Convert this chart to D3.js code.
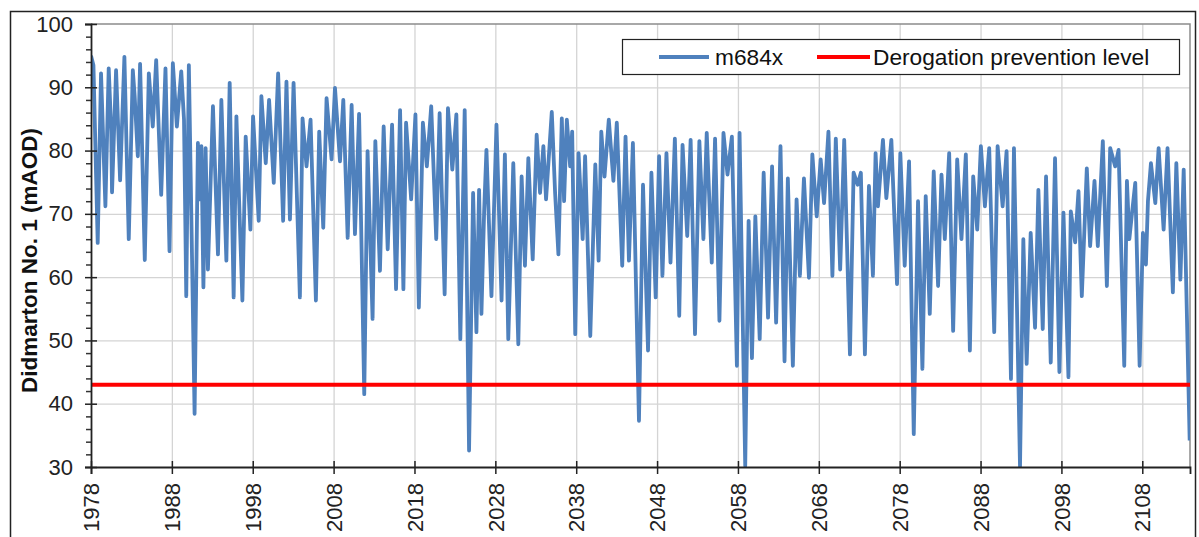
<!DOCTYPE html>
<html>
<head>
<meta charset="utf-8">
<script src="https://cdn.jsdelivr.net/npm/d3@7"></script>
<style>
  body { margin: 0; background: #fff; }
  text { font-family: "Liberation Sans", Arial, sans-serif; }
</style>
</head>
<body>
<svg id="chart" width="1199" height="537"></svg>
<script>
const decYear = [
  1978.0, 1978.3, 1978.83, 1979.24, 1979.78, 1980.19, 1980.5, 1980.6, 1981.1, 1981.6, 1982.13,
  1982.67, 1983.17, 1983.4, 1983.79, 1984.07, 1984.65, 1985.15, 1985.64, 1986.06, 1986.68, 1987.21,
  1987.71, 1988.12, 1988.62, 1989.16, 1989.5, 1989.78, 1990.1, 1990.81, 1991.22, 1991.45,
  1991.65, 1991.9, 1992.17, 1992.46, 1993.08, 1993.7, 1994.12, 1994.74, 1995.15, 1995.64,
  1995.98, 1996.72, 1997.13, 1997.71, 1998.04, 1998.74, 1999.07, 1999.61, 2000.02, 2000.6,
  2001.14, 2001.76, 2002.17, 2002.6, 2003.05, 2003.83, 2004.16, 2004.65, 2005.15, 2005.81,
  2006.22, 2006.72, 2007.13, 2007.75, 2008.17, 2008.79, 2009.2, 2009.74, 2010.23, 2010.64,
  2011.15, 2011.79, 2012.2, 2012.82, 2013.16, 2013.73, 2014.19, 2014.69, 2015.23, 2015.72,
  2016.22, 2016.63, 2016.96, 2017.59, 2018.12, 2018.54, 2019.04, 2019.53, 2020.07, 2020.69,
  2021.11, 2021.73, 2022.14, 2022.68, 2023.18, 2023.67, 2024.21, 2024.75, 2025.25, 2025.66,
  2025.99, 2026.28, 2026.61, 2026.9, 2027.52, 2028.14, 2028.77, 2029.18, 2029.6, 2030.22,
  2030.84, 2031.25, 2031.66, 2032.08, 2032.62, 2033.11, 2033.53, 2033.94, 2034.27, 2034.98,
  2035.39, 2035.8, 2036.22, 2036.5, 2036.84, 2037.25, 2037.5, 2037.88, 2038.29, 2038.8,
  2039.1, 2039.74, 2040.36, 2040.77, 2041.1, 2041.5, 2042.03, 2042.6, 2043.02, 2043.69,
  2044.1, 2044.52, 2045.01, 2045.76, 2046.26, 2046.88, 2047.3, 2047.83, 2048.25, 2048.66,
  2049.16, 2049.66, 2050.2, 2050.74, 2051.15, 2051.73, 2052.15, 2052.69, 2053.23, 2053.73,
  2054.14, 2054.76, 2055.17, 2055.71, 2056.21, 2056.71, 2057.25, 2057.87, 2058.2, 2058.9,
  2059.32, 2059.73, 2060.15, 2060.69, 2061.18, 2061.72, 2062.22, 2062.72, 2063.26, 2063.76,
  2064.17, 2064.79, 2065.25, 2065.66, 2066.16, 2066.78, 2067.2, 2067.74, 2068.23, 2068.65,
  2069.19, 2069.68, 2070.1, 2070.64, 2071.14, 2071.85, 2072.3, 2072.8, 2073.2, 2073.7,
  2074.2, 2074.69, 2075.02, 2075.31, 2075.93, 2076.35, 2076.97, 2077.67, 2078.08, 2078.62,
  2079.16, 2079.74, 2080.27, 2080.81, 2081.22, 2081.72, 2082.21, 2082.75, 2083.17, 2083.58,
  2084.12, 2084.61, 2085.11, 2085.64, 2086.18, 2086.68, 2087.09, 2087.59, 2088.04, 2088.54,
  2089.07, 2089.69, 2090.11, 2090.73, 2091.22, 2091.76, 2092.13, 2092.88, 2093.29, 2093.7,
  2094.2, 2094.74, 2095.15, 2095.69, 2096.1, 2096.68, 2097.21, 2097.75, 2098.25, 2098.87,
  2099.16, 2099.7, 2100.11, 2100.52, 2101.14, 2101.55, 2102.09, 2102.5, 2103.12, 2103.62,
  2104.03, 2104.65, 2105.07, 2105.77, 2106.1, 2106.4, 2106.72, 2107.13, 2107.67, 2108.08,
  2108.45, 2108.7, 2109.07, 2109.61, 2110.02, 2110.64, 2111.12, 2111.78, 2112.21, 2112.71,
  2113.12, 2113.86
]

const m684x = [
  95, 93.5, 65.4, 92.2, 71.2, 93, 83.2, 73.4, 92.7, 75.3, 94.8,
  66, 92.7, 88.6, 79.1, 93.7, 62.7, 92.2, 83.8, 94.3, 73, 93,
  64.1, 93.8, 83.8, 92.5, 84.9, 57, 93.5, 38.4, 81.2, 72.3,
  80.7, 58.4, 80.4, 61.2, 87, 63.6, 88, 62.6, 90.7, 56.8,
  85.4, 56.3, 82.2, 67.5, 85.4, 68.9, 88.6, 78, 88, 74.9,
  92.2, 68.9, 90.9, 69.1, 90.7, 56.8, 85.1, 77.5, 84.9, 56.3,
  83, 67.8, 88.3, 78.6, 89.9, 78.3, 88, 66.2, 87.2, 66.8,
  85.8, 41.5, 79.9, 53.4, 81.5, 61, 83.8, 64.4, 84.1, 58.1,
  86.4, 58.1, 84.4, 72.3, 85.7, 55.2, 84.4, 77.5, 87, 66,
  85.9, 57.3, 86.7, 77, 85.7, 50.2, 86.4, 32.6, 73.3, 51.3,
  73.8, 54.2, 70.2, 80.1, 57, 84.1, 56.3, 79.4, 50.2, 78,
  49.4, 75.9, 61.8, 78.8, 62.8, 82.5, 73.3, 80.7, 72.3, 86.1,
  73.3, 63.6, 85.1, 72, 84.9, 77.5, 83, 51, 79.6, 66,
  79.1, 50.7, 77.8, 62.6, 83, 75.9, 84.9, 75.2, 84.4, 61.8,
  82.2, 62.6, 81.2, 37.3, 74.6, 48.4, 76.5, 56.8, 79.1, 60.2,
  79.6, 62.3, 81.9, 53.9, 80.9, 66.5, 81.7, 51, 81.5, 66,
  82.8, 62.3, 81.9, 53.1, 82.8, 76.2, 82.2, 46, 82.8, 30.2,
  68.9, 47.2, 69.6, 50.2, 76.5, 53.6, 77.5, 52.8, 80.7, 46.7,
  75.6, 46, 72.3, 60.2, 75.6, 59.9, 79.4, 69.6, 78.6, 71.7,
  83, 60.2, 81.9, 61.2, 81.7, 47.8, 76.5, 74.6, 76.5, 47.8,
  74.4, 60.2, 79.6, 71.2, 81.7, 72.5, 81.7, 58.9, 79.6, 61.8,
  78.3, 35.2, 72, 45.5, 72.8, 54.2, 76.7, 58.6, 76.2, 66,
  79.6, 51.5, 78.6, 66, 79.4, 48.4, 75.9, 67.5, 80.7, 71.2,
  80.4, 51.3, 80.7, 71.2, 79.9, 43.9, 80.4, 30, 66, 46.3,
  67, 52, 73.8, 51.8, 75.9, 46.5, 78.8, 45, 70.2, 44.2,
  70.4, 65.5, 73.6, 57, 77.2, 64.9, 75.2, 64.9, 81.5, 58.6,
  80.4, 77.5, 80.1, 46, 75.2, 66, 70, 74.9, 46, 67,
  62, 72, 78, 71.7, 80.4, 67.5, 80.4, 57.6, 78, 59.6,
  77, 34.2
]

const derogationLevel = 43
const yearTicks = [1978, 1988, 1998, 2008, 2018, 2028, 2038, 2048, 2058, 2068, 2078, 2088, 2098, 2108]
const levelTicks = [30, 40, 50, 60, 70, 80, 90, 100]
const legendLabels = ['m684x', 'Derogation prevention level']

const plot = { left: 91, right: 1190, top: 24, bottom: 467 }

const svg = d3.select('#chart')

svg.append('rect')
  .attr('x', 10.5)
  .attr('y', 11.5)
  .attr('width', 1185)
  .attr('height', 540)
  .attr('fill', '#fff')
  .attr('stroke', '#222')
  .attr('stroke-width', 1.5)

const x = d3.scaleLinear().domain([1978, 2113.9]).range([plot.left, plot.right])
const y = d3.scaleLinear().domain([30, 100]).range([plot.bottom, plot.top])

// grid
svg.append('g')
  .attr('transform', `translate(0,${plot.bottom})`)
  .call(d3.axisBottom(x).tickValues(yearTicks.slice(1)).tickSize(-(plot.bottom - plot.top)).tickFormat(''))
  .call(g => g.select('.domain').remove())
  .call(g => g.selectAll('line').attr('stroke', '#d4d4d4').attr('stroke-width', 1.3))

svg.append('g')
  .attr('transform', `translate(${plot.left},0)`)
  .call(d3.axisLeft(y).tickValues(levelTicks.slice(1, -1)).tickSize(-(plot.right - plot.left)).tickFormat(''))
  .call(g => g.select('.domain').remove())
  .call(g => g.selectAll('line').attr('stroke', '#d4d4d4').attr('stroke-width', 1.3))

// plot area border
svg.append('path')
  .attr('d', `M${plot.left},${plot.top}H${plot.right}V${plot.bottom}`)
  .attr('fill', 'none')
  .attr('stroke', '#8c8c8c')
  .attr('stroke-width', 1.5)

const series = decYear.map((t, i) => ({ t, v: m684x[i] }))

svg.append('clipPath')
  .attr('id', 'plot-clip')
  .append('rect')
  .attr('x', plot.left)
  .attr('y', plot.top)
  .attr('width', plot.right - plot.left)
  .attr('height', plot.bottom - plot.top)

svg.append('path')
  .datum(series)
  .attr('clip-path', 'url(#plot-clip)')
  .attr('fill', 'none')
  .attr('stroke', '#4f81bd')
  .attr('stroke-width', 3.8)
  .attr('stroke-linejoin', 'round')
  .attr('d', d3.line().x(d => x(d.t)).y(d => y(d.v)))

svg.append('line')
  .attr('x1', plot.left)
  .attr('x2', plot.right)
  .attr('y1', y(derogationLevel))
  .attr('y2', y(derogationLevel))
  .attr('stroke', '#ff0000')
  .attr('stroke-width', 4)

// axes
const minor = d3.range(30, 101, 2).filter(v => v % 10 !== 0)
svg.append('g')
  .attr('transform', `translate(${plot.left},0)`)
  .call(d3.axisLeft(y).tickValues(minor).tickSize(5).tickFormat(''))
  .call(g => g.select('.domain').remove())
  .call(g => g.selectAll('line').attr('stroke', '#333').attr('stroke-width', 1.5))

const yAxis = svg.append('g')
  .attr('transform', `translate(${plot.left},0)`)
  .call(d3.axisLeft(y).tickValues(levelTicks).tickSize(6).tickPadding(12))
yAxis.select('.domain').attr('stroke', '#222').attr('stroke-width', 1.8)
yAxis.selectAll('line').attr('x2', 6).attr('x1', -6).attr('stroke', '#222').attr('stroke-width', 1.5)
yAxis.selectAll('text')
  .attr('x', -18)
  .attr('font-size', 22)
  .attr('fill', '#222')
  .style('font-family', '"Liberation Sans", Arial, sans-serif')

const xAxis = svg.append('g')
  .attr('transform', `translate(0,${plot.bottom})`)
  .call(d3.axisBottom(x).tickValues(yearTicks).tickSize(7).tickFormat(d3.format('d')))
xAxis.select('.domain').attr('stroke', '#222').attr('stroke-width', 1.8)
xAxis.selectAll('line').attr('y1', -6).attr('stroke', '#222').attr('stroke-width', 1.5)
xAxis.selectAll('text')
  .attr('transform', 'rotate(-90)')
  .attr('x', -16)
  .attr('y', 0)
  .attr('dy', '0.35em')
  .attr('text-anchor', 'end')
  .attr('font-size', 22)
  .attr('fill', '#222')
  .style('font-family', '"Liberation Sans", Arial, sans-serif')

svg.append('text')
  .attr('transform', `translate(37,${(plot.top + plot.bottom) / 2 + 15}) rotate(-90)`)
  .attr('text-anchor', 'middle')
  .attr('font-size', 22.5)
  .attr('font-weight', 'bold')
  .attr('fill', '#111')
  .text('Didmarton No. 1 (mAOD)')

// legend
const legend = svg.append('g')
legend.append('rect')
  .attr('x', 622.5)
  .attr('y', 39.5)
  .attr('width', 557)
  .attr('height', 35)
  .attr('fill', '#fff')
  .attr('stroke', '#222')
  .attr('stroke-width', 1.2)

const legendItems = [
  { label: legendLabels[0], color: '#4f81bd', width: 3.8, x0: 659, x1: 709, tx: 715 },
  { label: legendLabels[1], color: '#ff0000', width: 4, x0: 817, x1: 870, tx: 873 }
]

legend.selectAll('line')
  .data(legendItems)
  .enter()
  .append('line')
  .attr('x1', d => d.x0)
  .attr('x2', d => d.x1)
  .attr('y1', 57)
  .attr('y2', 57)
  .attr('stroke', d => d.color)
  .attr('stroke-width', d => d.width)

legend.selectAll('text')
  .data(legendItems)
  .enter()
  .append('text')
  .attr('x', d => d.tx)
  .attr('y', 57)
  .attr('dy', '0.35em')
  .attr('font-size', 22.7)
  .attr('fill', '#111')
  .text(d => d.label)
</script>
</body>
</html>
